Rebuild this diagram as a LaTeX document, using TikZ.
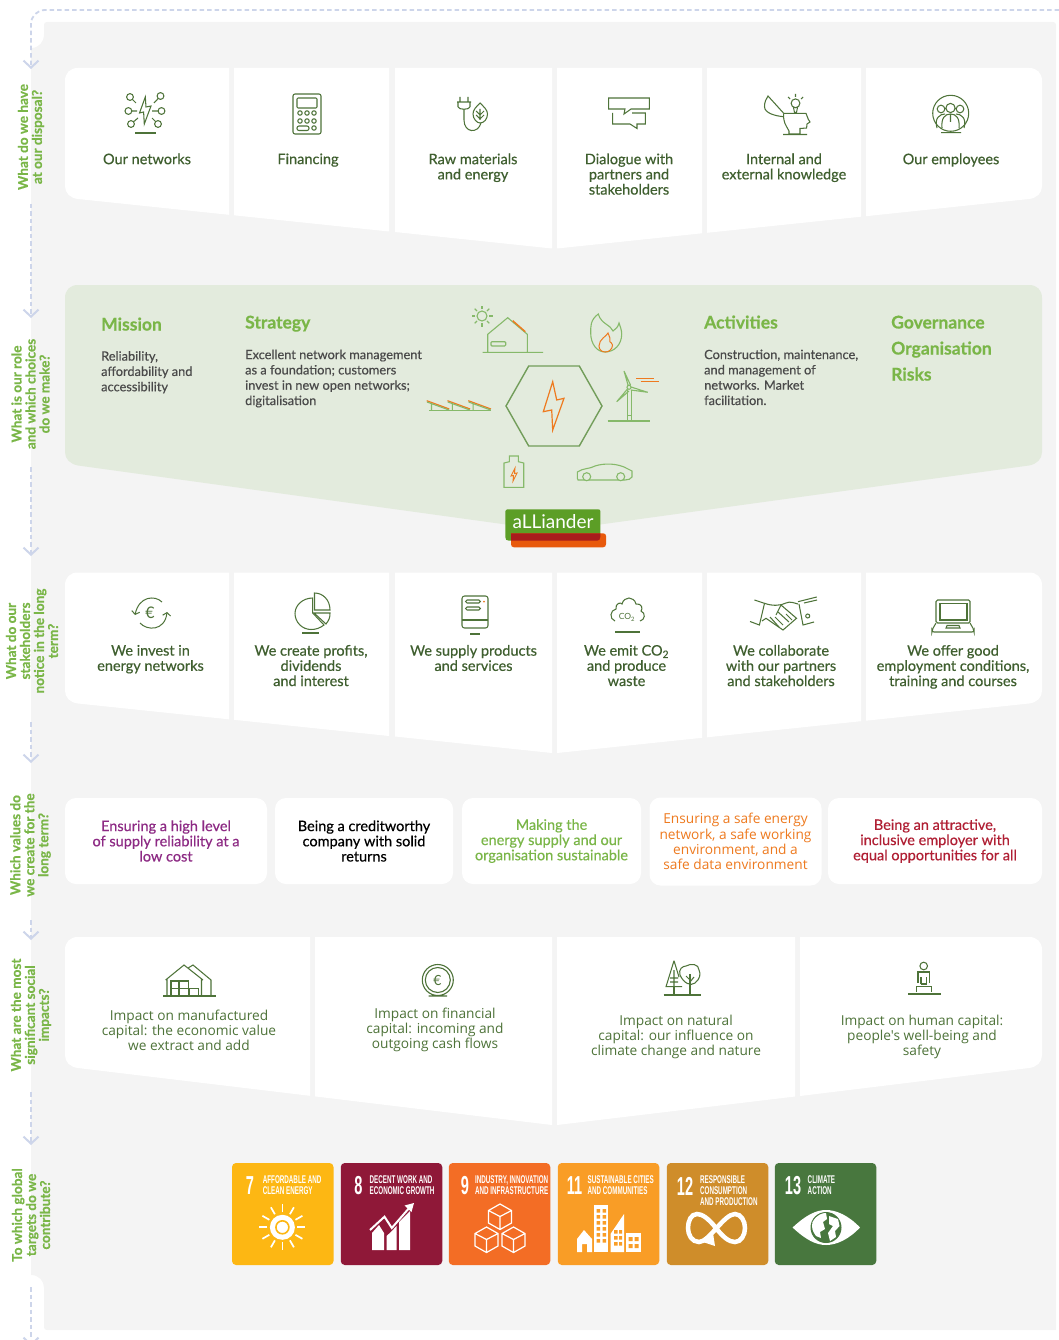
\documentclass[tikz,border=0pt]{standalone}
\usepackage{fontspec}
\setmainfont{Lato}
\newfontfamily\cardfont[FakeBold=0.45]{Lato}
\newfontfamily\headfont[FakeBold=0.5]{Lato Bold}
\newfontfamily\openfont{Open Sans}
\newfontfamily\sdgfont{Liberation Sans}
\usetikzlibrary{arrows.meta,calc}

\definecolor{greybg}{HTML}{F4F4F4}
\definecolor{missionbg}{HTML}{E3EBDD}
\definecolor{flowblue}{HTML}{CDD5EA}
\definecolor{labelgreen}{HTML}{7AB648}
\definecolor{cardtext}{HTML}{3F5F2F}
\definecolor{icongreen}{HTML}{4E7339}
\definecolor{lightgreen}{HTML}{86B96A}
\definecolor{hexorange}{HTML}{EE7A1F}
\definecolor{bodygrey}{HTML}{4A4A4A}
\definecolor{valuepurple}{HTML}{8D2A84}
\definecolor{valuered}{HTML}{B01F34}
\definecolor{logogreen}{HTML}{5C9E26}
\definecolor{logored}{HTML}{A81C1C}
\definecolor{logoorange}{HTML}{E8590C}
\definecolor{goalseven}{HTML}{FDB713}
\definecolor{goaleight}{HTML}{8F1838}
\definecolor{goalnine}{HTML}{F36D25}
\definecolor{goaleleven}{HTML}{F99D26}
\definecolor{goaltwelve}{HTML}{CF8D2A}
\definecolor{goalthirteen}{HTML}{48773E}

\tikzset{
    flow/.style={draw=flowblue,line width=1.8pt,dash pattern=on 4.5pt off 3pt,-{Straight Barb[length=7pt,width=15pt,line width=2pt]}},
    sidelabel/.style={rotate=90,align=center,text=labelgreen,inner sep=0pt,font=\headfont\fontsize{13.6}{14}\selectfont},
    cardlabel/.style={anchor=north,align=center,inner sep=0pt,text=cardtext,font=\cardfont\fontsize{14.5}{15.2}\selectfont},
    impactlabel/.style={anchor=north,align=center,inner sep=0pt,text=icongreen,font=\openfont\fontsize{13.7}{15.2}\selectfont},
    valuebox/.style={fill=white,rounded corners=11pt,align=center,inner sep=0pt,minimum height=86pt,font=\cardfont\fontsize{14.5}{15.2}\selectfont},
    heading/.style={anchor=base west,inner sep=0pt,text=labelgreen,font=\headfont\fontsize{17.5}{20}\selectfont},
    bodytext/.style={anchor=north west,align=left,inner sep=0pt,text=bodygrey,font=\cardfont\fontsize{12.8}{15.3}\selectfont},
    icon/.style={draw=icongreen,line width=1.05pt},
    lighticon/.style={draw=lightgreen,line width=1.1pt},
    hoticon/.style={draw=hexorange,line width=1pt},
    sdgbox/.style={rounded corners=4pt,minimum width=101.5pt,minimum height=102pt,inner sep=0pt},
    sdgnum/.style={anchor=center,inner sep=0pt,text=white,xscale=.56,transform shape,font=\sdgfont\bfseries\fontsize{26}{26}\selectfont},
    sdgtitle/.style={anchor=north west,align=left,inner sep=0pt,text=white,xscale=.56,transform shape,font=\sdgfont\bfseries\fontsize{11.2}{10.9}\selectfont},
    sdgline/.style={draw=white,line width=1.5pt},
}

\begin{document}
\begin{tikzpicture}[x=1pt,y=-1pt]
    \useasboundingbox (0,0) rectangle (1059,1340);
    \clip (0,0) rectangle (1059,1340);

    \fill[greybg] (44,25) .. controls (44,23) and (45,22) .. (47,22) -- (1053,22) .. controls (1055,22) and (1056,23) .. (1056,25)
        -- (1056,1330) -- (47,1330) .. controls (45,1330) and (44,1329) .. (44,1327) -- (44,1288)
        .. controls (44,1281) and (39,1275) .. (31,1275) -- (31,48) .. controls (39,48) and (44,42) .. (44,34) -- cycle;

    \coordinate (flowstart) at (1059,10);
    \coordinate (flowcorner) at (31,10);
    \coordinate (haveend) at (31,69);
    \coordinate (rolestart) at (31,204);
    \coordinate (roleend) at (31,318);
    \coordinate (noticestart) at (31,467);
    \coordinate (noticeend) at (31,556);
    \coordinate (valuestart) at (31,722);
    \coordinate (valueend) at (31,763);
    \coordinate (impactstart) at (31,920);
    \coordinate (impactend) at (31,940);
    \coordinate (targetstart) at (31,1092);
    \coordinate (targetend) at (31,1145);
    \coordinate (outstart) at (31,1287);
    \coordinate (outend) at (31,1346);
    \draw[flow,rounded corners=14pt] (flowstart) -- (flowcorner) -- (haveend);
    \draw[flow] (rolestart) -- (roleend);
    \draw[flow] (noticestart) -- (noticeend);
    \draw[flow] (valuestart) -- (valueend);
    \draw[flow] (impactstart) -- (impactend);
    \draw[flow] (targetstart) -- (targetend);
    \draw[flow] (outstart) -- (outend);

    \node[sidelabel] (have label) at (31,137) {What do we have\\at our disposal?};
    \node[sidelabel] (role label) at (30.5,394) {What is our role\\and which choices\\do we make?};
    \node[sidelabel] (notice label) at (32,641) {What do our\\stakeholders\\notice in the long\\term?};
    \node[sidelabel] (value label) at (30.5,845) {Which values do\\we create for the\\long term?};
    \node[sidelabel] (impact label) at (31,1015) {What are the most\\significant social\\impacts?};
    \node[sidelabel] (target label) at (31,1215) {To which global\\targets do we\\contribute?};

    \foreach \rowtop in {0,504.5} {
        \begin{scope}[shift={(0,\rowtop)}]
            \fill[white] (229,68) -- (229,214.8) -- (78,199) .. controls (70,198) and (65,193) .. (65,186) -- (65,81) .. controls (65,73) and (70,68) .. (78,68) -- cycle;
            \fill[white] (234,68) -- (389,68) -- (389,231.5) -- (234,215.3) -- cycle;
            \fill[white] (395,68) -- (552,68) -- (552,248.5) -- (395,232) -- cycle;
            \fill[white] (557,68) -- (702,68) -- (702,233.3) -- (557,248.5) -- cycle;
            \fill[white] (707,68) -- (861,68) -- (861,216.7) -- (707,232.8) -- cycle;
            \fill[white] (866,68) -- (1029,68) .. controls (1037,68) and (1042,73) .. (1042,81) -- (1042,186) .. controls (1042,193) and (1037,198) .. (1029,199) -- (866,216.2) -- cycle;
        \end{scope}
    }

    \fill[missionbg] (78,285) -- (1029,285) .. controls (1037,285) and (1042,290) .. (1042,298) -- (1042,452) .. controls (1042,459) and (1037,464) .. (1029,465.5)
        -- (553,531) -- (78,465.5) .. controls (70,464) and (65,459) .. (65,452) -- (65,298) .. controls (65,290) and (70,285) .. (78,285) -- cycle;

    \fill[white] (310,937) -- (310,1095.8) -- (78,1068) .. controls (70,1067) and (65,1062) .. (65,1055) -- (65,950) .. controls (65,942) and (70,937) .. (78,937) -- cycle;
    \fill[white] (315,937) -- (552,937) -- (552,1125) -- (315,1096.4) -- cycle;
    \fill[white] (557,937) -- (795,937) -- (795,1096.5) -- (557,1125) -- cycle;
    \fill[white] (800,937) -- (1029,937) .. controls (1037,937) and (1042,942) .. (1042,950) -- (1042,1055) .. controls (1042,1062) and (1037,1067) .. (1029,1068) -- (800,1096) -- cycle;

    % row one
    \node[cardlabel] (networks) at (147,153.3) {Our networks};
    \node[cardlabel] (financing) at (308,153.3) {Financing};
    \node[cardlabel] (materials) at (473,153.3) {Raw materials\\and energy};
    \node[cardlabel] (dialogue) at (629,153.3) {Dialogue with\\partners and\\stakeholders};
    \node[cardlabel] (knowledge) at (784,153.3) {Internal and\\external knowledge};
    \node[cardlabel] (employees) at (951,153.3) {Our employees};

    \draw[icon] (145.3,97) -- (139.5,113) -- (143.6,112) -- (144.3,124) -- (151,106) -- (146,107) -- cycle;
    \foreach \px/\py/\qx/\qy in {130/97/136/103, 160.5/96/154/103, 128.4/111/137/111, 161.5/111/152/111, 131/124/138/118, 158/124/152/118}
        \draw[icon] (\px,\py) circle (3.4) (\qx,\qy) -- ($(\px,\py)!0.35!(\qx,\qy)$);
    \draw[icon] (135,133) -- (155.5,133);

    \draw[icon,rounded corners=2pt] (293,94) rectangle (321,134);
    \draw[icon,rounded corners=1pt] (297,98) rectangle (317,108);
    \foreach \px in {300,307,314} \foreach \py in {113,121} \draw[icon] (\px,\py) circle (2.2);
    \draw[icon,rounded corners=2pt] (297,126) rectangle (309,130.5);
    \draw[icon] (314,128) circle (2.2);

    \draw[icon] (460,97) -- (460,102) (468,97) -- (468,102) (457,102) -- (471,102) (458,102) -- (458,107) (470,102) -- (470,107) (458,107) .. controls (459,110) and (469,110) .. (470,107)
        (464,109.5) -- (464,120) .. controls (464,133) and (478,134) .. (481,123);
    \draw[icon] (480,103) .. controls (476,107) and (473,110) .. (473,114) .. controls (473,119) and (477,123) .. (480,123) .. controls (484,123) and (487.5,119) .. (487.5,114) .. controls (487.5,110) and (484,107) .. (480,103) -- cycle
        (480,109) -- (480,120) (476,111) -- (480,115) -- (484,111) (476,115) -- (480,119) -- (484,115);

    \draw[icon] (608.6,98) -- (649.4,98) -- (649.4,109) -- (631,109) -- (624,114) -- (625,109) -- (608.6,109) -- cycle;
    \draw[icon] (612.7,113) -- (612.7,124) -- (630,124) -- (637,128.5) -- (637,124) -- (645.4,124) -- (645.4,113) -- (632,113);

    \draw[icon] (783.7,113.3) -- (806,113.3) .. controls (807.5,116) and (807,118) .. (810,122) -- (807,124) -- (806.6,128) -- (800,128.5) -- (800,134) -- (789,134) -- (789,131)
        .. controls (786,125) and (783,123) .. (783.7,113.3) (783,134.5) -- (807,134.5);
    \draw[icon] (783.7,116.7) .. controls (775,116) and (764.5,113) .. (764.5,106.7) .. controls (764.5,102) and (766,99) .. (768,96) -- (783.7,113.3);
    \draw[icon] (795.5,103.3) circle (4.4) (793.5,107.5) -- (794.5,112.5) -- (796.5,112.5) -- (797.5,107.5) (795.5,94) -- (795.5,97) (788,97) -- (790,99) (803,97) -- (801,99);

    \draw[icon] (950.7,113.3) circle (18) (941,132.7) -- (961,132.7);
    \draw[icon] (941,109) circle (3.8) (960,109) circle (3.8) (950.5,108) circle (4.6);
    \draw[icon] (937,128) .. controls (934,118) and (940,114) .. (945,114) (964,128) .. controls (967,118) and (961,114) .. (956,114)
        (942,128) .. controls (941,118) and (945,114) .. (950.5,114) .. controls (956,114) and (960,118) .. (959,128) (950.5,114) -- (950.5,122);

    % mission row
    \node[heading] (mission) at (101,330.5) {Mission};
    \node[heading] (strategy) at (245,328.5) {Strategy};
    \node[heading] (activities) at (704,328.5) {Activities};
    \node[heading] (governance) at (891,328.5) {Governance};
    \node[heading] (organisation) at (891,354.5) {Organisation};
    \node[heading] (risks) at (891,380.5) {Risks};
    \node[bodytext] (mission text) at (101,351) {Reliability,\\affordability and\\accessibility};
    \node[bodytext] (strategy text) at (245,349.5) {Excellent network management\\as a foundation; customers\\invest in new open networks;\\digitalisation};
    \node[bodytext] (activities text) at (704,349.5) {Construction, maintenance,\\and management of\\networks. Market\\facilitation.};

    \draw[lightgreen!85!black,line width=1.4pt] (506,406) -- (528.7,366) -- (579.3,366) -- (602,406) -- (579.3,446) -- (528.7,446) -- cycle;
    \draw[hoticon,line width=1.2pt] (552.7,381.7) -- (543.3,411.7) -- (551.7,410) -- (552.7,430) -- (564,398.3) -- (556.7,400) -- cycle;

    \draw[lighticon] (482,316) circle (5);
    \foreach \px/\py in {1/0,-1/0,0/1,0/-1,.7/.7,-.7/.7,.7/-.7,-.7/-.7}
        \draw[lighticon] ($(482,316)+(7*\px,7*\py)$) -- ($(482,316)+(10.5*\px,10.5*\py)$);
    \draw[lighticon] (482.7,352.3) -- (543,352.3) (487.7,352.3) -- (487.7,334.3) -- (507.7,317.7) -- (527.3,334.3) -- (527.3,352.3);
    \draw[lighticon,rounded corners=1pt] (491,341.7) rectangle (505.7,346);
    \draw[hoticon,line width=1.4pt] (512.7,320.7) -- (525.3,331.7);

    \draw[lighticon] (598.3,314) .. controls (590,320) and (590.7,327) .. (590.7,333) .. controls (590.7,344) and (597,352) .. (605,352) .. controls (614,352) and (621.7,345) .. (621.7,334)
        .. controls (621.7,330) and (620,326) .. (619,323) .. controls (618,327) and (616,329) .. (613,331) .. controls (611,325) and (601,324) .. (598.3,314) -- cycle;
    \draw[hoticon] (608,333) .. controls (607,336) and (599,339) .. (599,346) .. controls (599,350) and (602,352) .. (605.5,352) .. controls (609,352) and (612.5,349) .. (612.5,345) .. controls (612.5,342) and (610,343) .. (610,342) .. controls (610,339) and (610,336) .. (608,333) -- cycle;

    \draw[lighticon] (429.3,410.7) -- (490.7,410.7);
    \foreach \px in {0,20.8,41.6} {
        \draw[hoticon,line width=1.2pt] (426.7+\px,400.7) -- (449.3+\px,409);
        \draw[lighticon] (427+\px,402) -- (449+\px,410) (431.5+\px,403) -- (431.5+\px,410.7);
    }

    \draw[lighticon] (607.7,421) -- (650,421) (627.3,421) -- (627.3,390) (631.7,421) -- (631.7,390) (627.3,415.5) -- (631.7,415.5);
    \draw[lighticon] (629,387.3) circle (2) (628,385) -- (624,371) -- (630.5,385) (631,387) -- (647.7,392.3) -- (631,390) (627.5,389) -- (616.7,401.7) -- (629,391);
    \draw[hoticon,line width=.8pt] (636,378.3) -- (654,378.3) (640.7,381.7) -- (659.3,381.7);

    \draw[lighticon] (504,463) -- (509.3,461.7) -- (509.3,456) -- (518.3,456) -- (518.3,461.7) -- (523.7,463) -- (523.7,487.3) -- (504,487.3) -- cycle;
    \draw[hoticon,line width=.9pt] (515,468) -- (511,476) -- (513.5,475.5) -- (513,481) -- (517,473) -- (514.5,473.5) -- cycle;

    \draw[lighticon] (577.3,478) -- (577.3,472) .. controls (583,468) and (590,469) .. (595,466) .. controls (604,463) and (618,463) .. (628,469) -- (632,471) -- (632,477) .. controls (631,479) and (628,480) .. (625,480) -- (578,480) -- cycle;
    \draw[lighticon,fill=missionbg] (586.7,476.7) circle (4) (620.7,476.7) circle (4);

    \fill[logogreen] (505.3,511) .. controls (505.3,510) and (506,509.3) .. (507,509.3) -- (598,509.3) .. controls (599.5,509.3) and (600.3,510) .. (600.3,511) -- (600.3,537) .. controls (600.3,539.5) and (599,540.7) .. (597,540.7) -- (509,540.7) .. controls (506.5,540.7) and (505.3,539.5) .. (505.3,537) -- cycle;
    \fill[logoorange] (511,533.3) -- (603,533.3) .. controls (605,533.3) and (606,534.5) .. (606,536) -- (606,544) .. controls (606,546) and (605,547.3) .. (603,547.3) -- (514,547.3) .. controls (512,547.3) and (511,546) .. (511,544) -- cycle;
    \fill[logored] (511,533.3) -- (600.3,533.3) -- (600.3,537) .. controls (600.3,539.5) and (599,540.7) .. (597,540.7) -- (511,540.7) -- cycle;
    \node[inner sep=0pt,text=white,font=\fontsize{19}{19}\selectfont] (logo) at (553,521.5) {aLLiander};

    % row three
    \node[cardlabel] (invest) at (150.5,644.8) {We invest in\\energy networks};
    \node[cardlabel] (profits) at (311,644.8) {We create profits,\\dividends\\and interest};
    \node[cardlabel] (products) at (473.5,644.8) {We supply products\\and services};
    \node[cardlabel] (emit) at (626.5,644.8) {We emit CO\textsubscript{2}\\and produce\\waste};
    \node[cardlabel] (collaborate) at (781,644.8) {We collaborate\\with our partners\\and stakeholders};
    \node[cardlabel] (employment) at (953,644.8) {We offer good\\employment conditions,\\training and courses};

    \node[inner sep=0pt,text=icongreen,font=\fontsize{16}{16}\selectfont] (euro cycle) at (150,613) {€};
    \draw[icon,line width=1pt,-{Straight Barb[length=3pt,width=8pt]}] (162,602) .. controls (155,595) and (139,596) .. (135,615);
    \draw[icon,line width=1pt,-{Straight Barb[length=3pt,width=8pt]}] (140,623) .. controls (147,631) and (165,631) .. (167,612);

    \draw[icon] (312.7,598) -- (312.7,613) -- (324,625) .. controls (320,628) and (316,629.5) .. (311,629.5) .. controls (302,629.5) and (295,622) .. (295,613.5) .. controls (295,605) and (303,598) .. (312.7,598) -- cycle;
    \draw[icon] (314.5,593) -- (314.5,610) -- (330,610) .. controls (330,600) and (323,593) .. (314.5,593) -- cycle;
    \draw[icon] (314,613) -- (330,613) .. controls (330,618) and (329,620) .. (326,624) -- cycle;
    \draw[icon] (302,633) -- (319,633);

    \draw[icon,rounded corners=2.5pt] (462,596) rectangle (488,628);
    \draw[icon] (462,620) -- (488,620) (470,634) -- (480,634);
    \draw[icon,rounded corners=1.5pt] (465.5,600) rectangle (480.4,603) (465.5,607) rectangle (480.4,610);
    \fill[hexorange] (484,601.7) circle (1);

    \draw[icon] (615,621) .. controls (609,619) and (610,610) .. (616,609) .. controls (615,603) and (621,602) .. (622,604) .. controls (624,596) and (634,596) .. (636,604) .. controls (642,603) and (643,609) .. (641,611) .. controls (646,613) and (645,620) .. (640,621);
    \node[inner sep=0pt,text=icongreen,font=\fontsize{8.5}{8.5}\selectfont] (cloud text) at (627,617.5) {CO\textsubscript{2}};
    \draw[icon,line width=1.1pt] (615,632) -- (640,632);

    \draw[icon] (754.4,600) -- (764.5,603.3) -- (759.4,625) -- (750,621.5) (764.5,603.3) .. controls (772,606) and (780,606) .. (786,603) .. controls (790,601) and (794,603) .. (798,604)
        (798,601.7) -- (816.8,597) (799,604) -- (803,625) -- (814,622) (804,603) -- (817,600);
    \draw[icon] (776,615) -- (781,605) -- (796.5,618.3) -- (783,630) -- (766,618.3) -- (762,621);
    \draw[icon] (778,612) -- (789,622) (770,617) -- (779,627) (775,617) -- (783,625) (786,614) -- (792,620) (807.7,616) circle (2);

    \draw[icon,rounded corners=1.5pt] (936,600) rectangle (970,623);
    \draw[icon] (940,603.5) rectangle (967,620);
    \draw[icon,rounded corners=2pt] (936,623) -- (932,630) -- (932,632) -- (974,632) -- (974,630) -- (970,623);
    \draw[icon] (946,628) -- (947,625.5) -- (959,625.5) -- (960,628) -- cycle;

    % values
    \node[valuebox,minimum width=202pt,text=valuepurple] (reliability) at (166,841) {Ensuring a high level\\of supply reliability at a\\low cost};
    \node[valuebox,minimum width=178pt,text=black] (creditworthy) at (364,841) {Being a creditworthy\\company with solid\\returns};
    \node[valuebox,minimum width=179pt,text=labelgreen] (sustainable) at (551.5,841) {Making the\\energy supply and our\\organisation sustainable};
    \node[valuebox,minimum width=172pt,minimum height=88pt,text=hexorange,font=\openfont\fontsize{13.7}{15.2}\selectfont] (safe) at (735.5,841.5) {Ensuring a safe energy\\network, a safe working\\environment, and a\\safe data environment};
    \node[valuebox,minimum width=214pt,text=valuered] (attractive) at (935,841) {Being an attractive,\\inclusive employer with\\equal opportunities for all};

    % row five
    \node[impactlabel] (manufactured) at (189,1009.8) {Impact on manufactured\\capital: the economic value\\we extract and add};
    \node[impactlabel] (financial) at (435,1007.8) {Impact on financial\\capital: incoming and\\outgoing cash flows};
    \node[impactlabel] (natural) at (676,1014.8) {Impact on natural\\capital: our influence on\\climate change and nature};
    \node[impactlabel] (human) at (922,1014.8) {Impact on human capital:\\people's well-being and\\safety};

    \draw[icon,line width=1.1pt] (163,996) -- (215.7,996);
    \draw[icon] (165.6,980) -- (184,965) -- (203,980) (167,979) -- (167,996) (201.5,979) -- (201.5,996) (188,968) -- (193,965) -- (211,980) -- (211,996);
    \draw[icon] (171,981) rectangle (179,988.5) (179,981) rectangle (188.5,988.5) (171,988.5) rectangle (179,996) (179,988.5) rectangle (189,996) (189,988.5) rectangle (198.5,996);

    \draw[icon,line width=1.1pt] (437.8,980) circle (15.5) (437.8,980) circle (12.5) (428.6,996) -- (447,996);
    \node[inner sep=0pt,text=icongreen,font=\fontsize{14}{14}\selectfont] (coin) at (437.5,980) {€};

    \draw[icon,line width=1.1pt] (663.6,995) -- (701,995) (674,987) -- (674,995) (690,974) -- (690,995);
    \draw[icon] (674,960.7) -- (666,986.7) -- (682,986.7) (674,960.7) -- (679,977) (674,970) -- (674,987) (670,978) -- (678,978) (670,982) -- (678,982) (690,980) -- (686,976) (690,982) -- (694,977);
    \draw[icon] (680,975) .. controls (678,969) and (683,966) .. (686,966) .. controls (691,963) and (699,964) .. (699,970) .. controls (701,974) and (700,979) .. (695,983) .. controls (691,986) and (684,984) .. (680,975) -- cycle;

    \draw[icon] (923.7,966) circle (3.8);
    \draw[icon] (918,983) -- (918,972) -- (929.5,972) -- (929.5,983) (921,984) -- (921,977) (926.5,984) -- (926.5,977) (921,984) -- (926.5,984);
    \draw[icon] (916.5,992) -- (916.5,986.7) -- (931.5,986.7) -- (931.5,992) (908,994) -- (940.6,994);

    % targets
    \node[sdgbox,fill=goalseven] (goal seven) at (282.75,1214) {};
    \node[sdgbox,fill=goaleight] (goal eight) at (391.5,1214) {};
    \node[sdgbox,fill=goalnine] (goal nine) at (499.5,1214) {};
    \node[sdgbox,fill=goaleleven] (goal eleven) at (608.5,1214) {};
    \node[sdgbox,fill=goaltwelve] (goal twelve) at (717.5,1214) {};
    \node[sdgbox,fill=goalthirteen] (goal thirteen) at (825.5,1214) {};

    \node[sdgnum] (num seven) at (250,1186) {7};
    \node[sdgnum] (num eight) at (358.5,1186) {8};
    \node[sdgnum] (num nine) at (465,1186) {9};
    \node[sdgnum] (num eleven) at (574.5,1186) {11};
    \node[sdgnum] (num twelve) at (685,1186) {12};
    \node[sdgnum] (num thirteen) at (793,1186) {13};
    \node[sdgtitle] (title seven) at (262.7,1175.3) {AFFORDABLE AND\\CLEAN ENERGY};
    \node[sdgtitle] (title eight) at (369.6,1175.3) {DECENT WORK AND\\ECONOMIC GROWTH};
    \node[sdgtitle] (title nine) at (475,1175.3) {INDUSTRY, INNOVATION\\AND INFRASTRUCTURE};
    \node[sdgtitle] (title eleven) at (587.5,1175.3) {SUSTAINABLE CITIES\\AND COMMUNITIES};
    \node[sdgtitle] (title twelve) at (700,1175.3) {RESPONSIBLE\\CONSUMPTION\\AND PRODUCTION};
    \node[sdgtitle] (title thirteen) at (807.6,1175.3) {CLIMATE\\ACTION};

    \fill[white] (282.4,1227.3) circle (12.5);
    \draw[draw=goalseven,line width=1.6pt] (282.4,1227.3) circle (6.5);
    \draw[draw=white,line width=1.8pt] (282.4,1223) -- (282.4,1228);
    \foreach \px/\py in {1/0,-1/0,0/1,0/-1,.87/.5,-.87/.5,.87/-.5,-.87/-.5,.5/.87,-.5/.87,.5/-.87,-.5/-.87}
        \draw[sdgline,line width=1.7pt] ($(282.4,1227.3)+(15*\px,15*\py)$) -- ($(282.4,1227.3)+(23*\px,23*\py)$);

    \fill[white] (372,1250) -- (372,1233) -- (379,1225) -- (384,1233) -- (384,1250) -- cycle;
    \fill[white] (386.5,1250) -- (386.5,1236) -- (391,1232) -- (396.5,1226) -- (396.5,1250) -- cycle;
    \fill[white] (399,1250) -- (399,1222) -- (410,1211) -- (410,1250) -- cycle;
    \draw[sdgline,line width=2pt] (370,1230) -- (384.5,1216.7) -- (391.8,1228) -- (410,1207);
    \fill[white] (414,1203) -- (404.5,1205.5) -- (411.5,1212) -- cycle;

    \foreach \px/\py in {500/1216.5,486.5/1239.5,513.5/1239.5} {
        \draw[sdgline,line width=1.2pt] (\px,\py-12.5) -- (\px+11.5,\py-6) -- (\px+11.5,\py+6.5) -- (\px,\py+13) -- (\px-11.5,\py+6.5) -- (\px-11.5,\py-6) -- cycle (\px-11.5,\py-6) -- (\px,\py) -- (\px+11.5,\py-6) (\px,\py) -- (\px,\py+13);
    }

    \fill[white] (594,1205) rectangle (608,1252);
    \foreach \py in {1209,1215,1221,1227,1233,1239} {
        \fill[goaleleven] (596.5,\py) rectangle (600,\py+3.5) (602.5,\py) rectangle (606,\py+3.5);
    }
    \fill[white] (610.5,1252) -- (610.5,1234) -- (624,1214) -- (624,1252) -- cycle;
    \foreach \py in {1230,1236,1242} {
        \fill[goaleleven] (614,\py) rectangle (617.5,\py+3.5) (619,\py) rectangle (622,\py+3.5);
    }
    \fill[white] (626,1233) rectangle (641,1252);
    \foreach \py in {1237,1244} {
        \fill[goaleleven] (628.5,\py) rectangle (632.5,\py+4) (634.5,\py) rectangle (638.5,\py+4);
    }
    \fill[white] (577,1252) -- (577,1239) -- (584,1230) -- (592,1239) -- (592,1252) -- (587,1252) -- (587,1244) -- (582,1244) -- (582,1252) -- cycle;

    \draw[draw=white,line width=4.5pt] (716,1228) .. controls (708,1218) and (702,1214) .. (697,1214) .. controls (691,1214) and (688,1221) .. (688,1228) .. controls (688,1235) and (692,1242) .. (699,1242) .. controls (709,1242) and (724,1214) .. (735,1214) .. controls (741,1214) and (745,1221) .. (745,1228) .. controls (745,1235) and (741,1242) .. (735,1242) .. controls (729,1242) and (723,1237) .. (716,1228);
    \fill[white] (703,1242) -- (713,1233) -- (715,1246) -- cycle;

    \fill[white] (792.6,1227.5) .. controls (806,1215) and (816,1210) .. (826,1210) .. controls (836,1210) and (848,1215) .. (860,1227.5) .. controls (848,1240) and (836,1245) .. (826,1245) .. controls (816,1245) and (806,1240) .. (792.6,1227.5) -- cycle;
    \fill[goalthirteen] (826,1227.5) circle (15.5);
    \fill[white] (812.5,1222) .. controls (817,1214) and (823,1213) .. (826,1213) -- (827,1219) -- (823,1222) -- (825,1229) -- (820,1232) -- (821,1238) -- (816,1236) .. controls (813,1232) and (811,1228) .. (812.5,1222) -- cycle;
    \fill[white] (829,1216) -- (838,1219) -- (839.5,1226) -- (835,1231) -- (836,1237) -- (830,1241) -- (828,1233) -- (833,1226) -- (829,1224) -- cycle;
\end{tikzpicture}
\end{document}
